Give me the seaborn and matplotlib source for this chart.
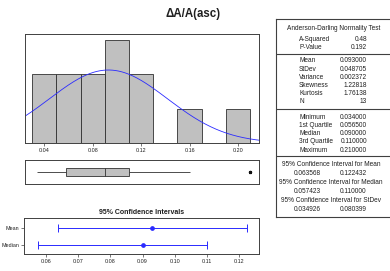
import numpy as np
import pandas as pd
import seaborn as sns
import matplotlib
matplotlib.use("Agg")
import matplotlib.pyplot as plt

# ---------------- data ----------------
values = [0.034, 0.040, 0.055, 0.058, 0.070, 0.080, 0.090, 0.092, 0.100,
          0.110, 0.110, 0.160, 0.210]
bin_edges = [0.03, 0.05, 0.07, 0.09, 0.11, 0.13, 0.15, 0.17, 0.19, 0.21]
bin_centers = [0.04, 0.06, 0.08, 0.10, 0.12, 0.14, 0.16, 0.18, 0.20]
bin_counts = [2, 2, 2, 3, 2, 0, 1, 0, 1]
fit_mean = 0.093
fit_sd = 0.048705
hist_ticks = [0.04, 0.08, 0.12, 0.16, 0.20]

ci_labels = ["Mean", "Median"]
ci_center = [0.093, 0.090]
ci_low = [0.063568, 0.057423]
ci_high = [0.122432, 0.110000]
ci_ticks = [0.06, 0.07, 0.08, 0.09, 0.10, 0.11, 0.12]

ad_labels = ["A-Squared", "P-Value"]
ad_values = ["0.48", "0.192"]
mom_labels = ["Mean", "StDev", "Variance", "Skewness", "Kurtosis", "N"]
mom_values = ["0.093000", "0.048705", "0.002372", "1.22818", "1.76138", "13"]
q_labels = ["Minimum", "1st Quartile", "Median", "3rd Quartile", "Maximum"]
q_values = ["0.034000", "0.056500", "0.090000", "0.110000", "0.210000"]
ci_titles = ["95% Confidence Interval for Mean",
             "95% Confidence Interval for Median",
             "95% Confidence Interval for StDev"]
ci_table_low = ["0.063568", "0.057423", "0.034926"]
ci_table_high = ["0.122432", "0.110000", "0.080399"]

# ---------------- style ----------------
sns.set_theme(style="white")
plt.rcParams['font.family'] = ['Liberation Sans', 'DejaVu Sans']
W, H = 390, 271
fig = plt.figure(figsize=(W / 100, H / 100), dpi=100)
fig.patch.set_facecolor("white")

SP = "#404040"
TXT = "#202020"
BLUE = "#2a2aff"


def px_axes(x0, y0, x1, y1):
    return fig.add_axes([x0 / W, 1 - y1 / H, (x1 - x0) / W, (y1 - y0) / H])


def frame(ax, lw=0.7):
    for s in ax.spines.values():
        s.set_color(SP)
        s.set_linewidth(lw)
        s.set_visible(True)


# title
fig.text(193 / W, 1 - 14.5 / H, "ΔA/A(asc)", ha="center", va="center",
         fontsize=8.3, fontweight="bold", color=TXT)

# ---------------- histogram ----------------
axh = px_axes(25, 34, 259, 143)
sns.histplot(x=bin_centers, weights=bin_counts, bins=bin_edges, ax=axh,
             color="#c0c0c0", edgecolor="#303030", linewidth=0.6, alpha=1)
xs = np.linspace(0.0241, 0.2173, 300)
bw = bin_edges[1] - bin_edges[0]
ys = len(values) * bw / (fit_sd * np.sqrt(2 * np.pi)) * np.exp(-0.5 * ((xs - fit_mean) / fit_sd) ** 2)
sns.lineplot(x=xs, y=ys, ax=axh, color=BLUE, linewidth=0.6)
axh.set_xlim(0.0241, 0.2173)
axh.set_ylim(0, 3.18)
axh.set_yticks([])
axh.set_xticks(hist_ticks)
axh.set_xticklabels([f"{t:.2f}" for t in hist_ticks])
axh.tick_params(axis="x", length=2, width=0.5, color=SP, labelsize=3.9,
                pad=1.5, labelcolor=TXT, bottom=True)
axh.set_xlabel("")
axh.set_ylabel("")
frame(axh)

# ---------------- boxplot ----------------
axb = px_axes(25, 160, 259, 184.3)
sns.boxplot(x=values, ax=axb, width=0.34, color="#c0c0c0", linecolor="#303030",
            linewidth=0.6, showcaps=False, saturation=1, whis=1.5,
            flierprops=dict(marker="*", markersize=2.2, markerfacecolor="#101010",
                            markeredgecolor="#101010"))
axb.set_xlim(0.0241, 0.2173)
axb.set_ylim(0.5, -0.5)
axb.set_xticks([])
axb.set_yticks([])
axb.set_xlabel("")
frame(axb)

# ---------------- CI plot ----------------
fig.text(141.7 / W, 1 - 212.3 / H, "95% Confidence Intervals", ha="center",
         va="center", fontsize=5, fontweight="bold", color=TXT)
axc = px_axes(24.3, 218.3, 259.3, 254)
cen = np.array(ci_center)
ypos = np.arange(len(ci_labels))
axc.errorbar(x=cen, y=ypos, xerr=[cen - np.array(ci_low), np.array(ci_high) - cen],
             fmt="o", color=BLUE, ecolor=BLUE, markersize=2.4, elinewidth=0.7,
             capsize=2.6, capthick=0.7)
axc.set_xlim(0.05315, 0.12636)
axc.set_ylim(1.49, -0.53)
axc.set_yticks(ypos)
axc.set_yticklabels(ci_labels)
axc.set_xticks(ci_ticks)
axc.set_xticklabels([f"{t:.2f}" for t in ci_ticks])
axc.tick_params(axis="both", length=2, width=0.5, color=SP, labelsize=3.9,
                pad=1.5, labelcolor=TXT, bottom=True, left=True)
frame(axc)

# ---------------- statistics table ----------------
axt = px_axes(275.7, 19, 392, 217.3)
axt.set_xlim(275.7, 392)
axt.set_ylim(217.3, 19)
axt.set_xticks([])
axt.set_yticks([])
frame(axt, lw=0.8)
axt.spines["right"].set_visible(False)
axt.patch.set_alpha(0)
for yl in [54, 109.3, 156.5]:
    axt.axhline(yl, color=SP, linewidth=0.8)

fs = 4.7
axt.text(333.5, 29, "Anderson-Darling Normality Test", ha="center", va="center",
         fontsize=fs, color=TXT)


def rows(labels, vals, y0, dy=8.2):
    for i, (lab, val) in enumerate(zip(labels, vals)):
        y = y0 + i * dy
        axt.text(299, y, lab, ha="left", va="center", fontsize=fs, color=TXT)
        axt.text(367, y, val, ha="right", va="center", fontsize=fs, color=TXT)


rows(ad_labels, ad_values, 39.3, 8.4)
rows(mom_labels, mom_values, 61)
rows(q_labels, q_values, 117.3)

for i, (t, lo, hi) in enumerate(zip(ci_titles, ci_table_low, ci_table_high)):
    yh = 164.3 + i * 18.3
    axt.text(331, yh, t, ha="center", va="center", fontsize=fs, color=TXT)
    axt.text(307, yh + 9, lo, ha="center", va="center", fontsize=fs, color=TXT)
    axt.text(353.3, yh + 9, hi, ha="center", va="center", fontsize=fs, color=TXT)

fig.savefig("out.png", dpi=100, facecolor="white")
